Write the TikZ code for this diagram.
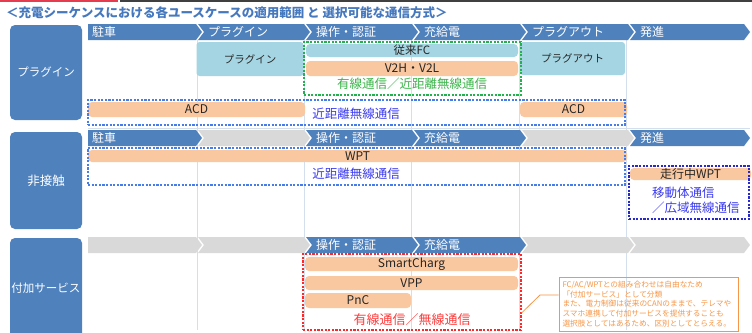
\documentclass[tikz,border=0pt]{standalone}
\usepackage{fontspec}
\setmainfont{Noto Sans CJK JP}
\usetikzlibrary{calc}
\definecolor{cblue}{RGB}{79,129,189}
\definecolor{cgray}{RGB}{217,217,217}
\definecolor{clblue}{RGB}{165,213,226}
\definecolor{corange}{RGB}{250,200,160}
\definecolor{cgreen}{RGB}{34,177,76}
\definecolor{cgreentxt}{RGB}{60,180,75}
\definecolor{cdblue}{RGB}{70,125,235}
\definecolor{ctxtblue}{RGB}{60,60,240}
\definecolor{cdkblue}{RGB}{40,40,205}
\definecolor{cred}{RGB}{255,40,40}
\definecolor{credtxt}{RGB}{255,60,60}
\definecolor{cnote}{RGB}{247,150,70}
\definecolor{cgrid}{RGB}{212,223,238}
\definecolor{ctitle}{RGB}{70,120,190}
\definecolor{ctopred}{RGB}{230,60,80}
\definecolor{ctopdark}{RGB}{64,64,64}
\definecolor{ctext}{RGB}{38,38,38}
\newcommand\chevA[4]{\fill[#4] (#1,#3) -- (#2,#3) -- ({#2+6},{#3+8}) -- (#2,{#3+16}) -- (#1,{#3+16}) -- cycle;}
\newcommand\chevB[4]{\fill[#4] (#1,#3) -- (#2,#3) -- ({#2+6},{#3+8}) -- (#2,{#3+16}) -- (#1,{#3+16}) -- ({#1+6},{#3+8}) -- cycle;}
\begin{document}
\begin{tikzpicture}[x=1pt,y=-1pt,
  chevlbl/.style={anchor=west, text=white, inner sep=0pt, font=\fontsize{12}{12}\selectfont},
  rowlbl/.style={fill=cblue, rounded corners=5pt, text=white, minimum width=72pt, inner sep=0pt, font=\fontsize{11.5}{12}\selectfont},
  obar/.style={fill=corange, rounded corners=4pt, inner sep=0pt, text=ctext, font=\fontsize{12}{12}\selectfont},
  lbbox/.style={fill=clblue, rounded corners=3pt, inner sep=0pt, text=ctext, font=\fontsize{10.5}{11}\selectfont},
  dbox/.style={dash pattern=on 2.2pt off 1.4pt, line width=1.1pt, inner sep=0pt},
  commtxt/.style={inner sep=0pt, font=\fontsize{12.5}{15}\selectfont},
  gridline/.style={draw=cgrid, line width=0.8pt}
]
\useasboundingbox (0,0) rectangle (752,332);
\fill[white] (0,0) rectangle (752,332);
% top rule
\draw[ctopred, line width=2pt] (0,1) -- (118,1);
\draw[ctopdark, line width=2pt] (120,1) -- (752,1);
% title
\node[anchor=west, inner sep=0pt, text=ctitle, font=\fontsize{12.5}{13}\bfseries] (title) at (6,13) {＜充電シーケンスにおける各ユースケースの適用範囲 と 選択可能な通信方式＞};
% grid lines
\foreach \gx in {197,304,411,519,626} { \draw[gridline] (\gx,40) -- (\gx,330); }
\draw[gridline] (88,128) -- (750,128);
% row labels
\node[rowlbl, minimum height=95pt] (rplug) at (46,72.5) {プラグイン};
\node[rowlbl, minimum height=97pt, font=\fontsize{12.5}{13}\selectfont] (rcontact) at (46,180.5) {非接触};
\node[rowlbl, minimum height=100pt] (rservice) at (46,288) {付加サービス};
% chevrons row 1
\chevA{88}{196}{24}{cblue}
\chevB{198}{304}{24}{cblue}
\chevB{306}{412}{24}{cblue}
\chevB{414}{520}{24}{cblue}
\chevB{522}{628}{24}{cblue}
\chevB{630}{744}{24}{cblue}
\node[chevlbl] (p1a) at (92,32) {駐車};
\node[chevlbl] (p1b) at (208,32) {プラグイン};
\node[chevlbl] (p1c) at (316,32) {操作・認証};
\node[chevlbl] (p1d) at (424,32) {充給電};
\node[chevlbl] (p1e) at (532,32) {プラグアウト};
\node[chevlbl] (p1f) at (640,32) {発進};
% chevrons row 2
\chevA{88}{196}{130}{cblue}
\chevB{198}{304}{130}{cgray}
\chevB{306}{412}{130}{cblue}
\chevB{414}{520}{130}{cblue}
\chevB{522}{628}{130}{cgray}
\chevB{630}{744}{130}{cblue}
\node[chevlbl] (p2a) at (92,138) {駐車};
\node[chevlbl] (p2c) at (316,138) {操作・認証};
\node[chevlbl] (p2d) at (424,138) {充給電};
\node[chevlbl] (p2f) at (640,138) {発進};
% chevrons row 3
\chevA{88}{196}{237}{cgray}
\chevB{198}{304}{237}{cgray}
\chevB{306}{412}{237}{cblue}
\chevB{414}{520}{237}{cblue}
\chevB{522}{628}{237}{cgray}
\chevB{630}{744}{237}{cgray}
\node[chevlbl] (p3c) at (316,245) {操作・認証};
\node[chevlbl] (p3d) at (424,245) {充給電};
% row 1 content
\node[lbbox, minimum width=107pt, minimum height=34pt] (plugin) at (250,59) {プラグイン};
\node[lbbox, minimum width=105pt, minimum height=33pt] (plugout) at (572.5,58.5) {プラグアウト};
\node[lbbox, minimum width=212pt, minimum height=13pt, rounded corners=4pt, font=\fontsize{11.5}{12}\selectfont] (fc) at (412,50.5) {従来FC};
\node[obar, minimum width=212pt, minimum height=15pt] (v2h) at (412,68.5) {V2H・V2L};
\node[commtxt, text=cgreentxt] (wired1) at (412,84) {有線通信／近距離無線通信};
\node[dbox, draw=cgreen, minimum width=217pt, minimum height=53pt] (gbox) at (412.5,68.5) {};
\node[obar, minimum width=217pt, minimum height=15pt] (acd1) at (196.5,109.5) {ACD};
\node[obar, minimum width=107pt, minimum height=15pt] (acd2) at (573.5,109.5) {ACD};
\node[commtxt, text=ctxtblue] (nfc1) at (356,114) {近距離無線通信};
\node[dbox, draw=cdblue, minimum width=537pt, minimum height=25pt] (bbox1) at (356.5,112.5) {};
% row 2 content
\node[obar, minimum width=539pt, minimum height=12pt] (wpt) at (357.5,156) {WPT};
\node[commtxt, text=ctxtblue] (nfc2) at (356,174) {近距離無線通信};
\node[dbox, draw=cdblue, minimum width=537pt, minimum height=37pt] (bbox2) at (356.5,166.5) {};
\node[obar, minimum width=121pt, minimum height=12pt] (dwpt) at (690.5,174) {走行中WPT};
\node[commtxt, text=ctxtblue, align=left, anchor=west] (mobile) at (652,200.5) {移動体通信\\／広域無線通信};
\node[dbox, draw=cdkblue, minimum width=120pt, minimum height=53pt] (bbox3) at (689,192.5) {};
% row 3 content
\node[obar, minimum width=213pt, minimum height=14pt] (smart) at (411.5,264) {SmartCharg};
\node[obar, minimum width=213pt, minimum height=14pt] (vpp) at (411.5,283) {VPP};
\node[obar, minimum width=106pt, minimum height=15pt] (pnc) at (358,300.5) {PnC};
\node[commtxt, text=credtxt, font=\fontsize{13}{14}\selectfont] (wired2) at (412,320) {有線通信／無線通信};
\node[dbox, draw=cred, minimum width=218pt, minimum height=76pt] (svcbox) at (412,292) {};
% note
\node[draw=cnote, line width=0.8pt, minimum width=179pt, minimum height=54pt, text width=172pt, inner xsep=3.5pt, inner ysep=0pt, align=left, text=cnote, font=\fontsize{7.7}{9.6}\selectfont] (note) at (648.5,304) {FC/AC/WPTとの組み合わせは自由なため\\「付加サービス」として分類\\また、電力制御は従来のCANのままで、テレマや\\スマホ連携して付加サービスを提供することも\\選択肢としてはあるため、区別としてとらえる。};
\coordinate (bend) at (540,295);
\draw[cnote, line width=0.8pt] ([yshift=-21pt]svcbox.east) -- (bend) -- (note.west |- bend);
\end{tikzpicture}
\end{document}
